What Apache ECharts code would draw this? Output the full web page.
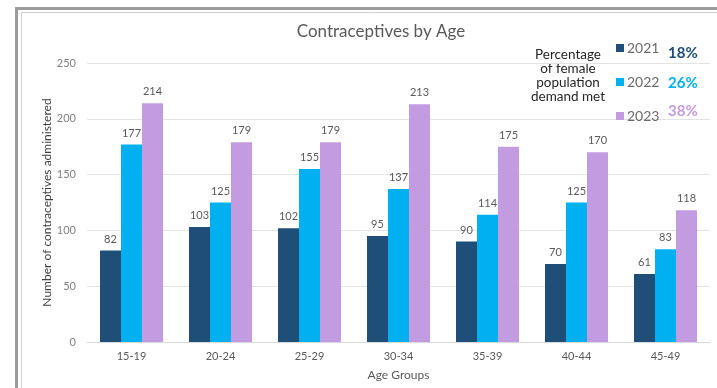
<!DOCTYPE html>
<html><head><meta charset="utf-8">
<script src="https://cdn.jsdelivr.net/npm/echarts@6/dist/echarts.min.js"></script>
<style>html,body{margin:0;padding:0;background:#fff}#c{width:717px;height:388px}</style>
</head><body><div id="c"></div>
<script>
const categories = ['15-19','20-24','25-29','30-34','35-39','40-44','45-49'];
const years = ['2021','2022','2023'];
const values2021 = [82,103,102,95,90,70,61];
const values2022 = [177,125,155,137,114,125,83];
const values2023 = [214,179,179,213,175,170,118];
const demandMet = ['18%','26%','38%'];
const yTicks = [0,50,100,150,200,250];
const colors = ['#1F4E79','#00B0F0','#C29BE0'];
const seriesValues = [values2021, values2022, values2023];

const chart = echarts.init(document.getElementById('c'));
const labelStyle = {show:true, position:'top', color:'#595959', fontSize:11, fontFamily:'Lato', distance:6};
chart.setOption({
  animation:false,
  backgroundColor:'#fff',
  title:{text:'Contraceptives by Age', left:376, top:18, textAlign:'center',
    textStyle:{fontFamily:'Lato', fontWeight:'normal', fontSize:17, color:'#595959'}},
  legend:{orient:'vertical', left:611, top:36, itemWidth:8, itemHeight:8, itemGap:20, icon:'rect',
    data:years, textStyle:{fontFamily:'Lato', fontSize:14, color:'#6a6a6a', padding:[0,0,0,-2]}},
  grid:{left:87, right:7, top:63, bottom:46, containLabel:false},
  xAxis:{type:'category', data:categories, name:'Age Groups', nameLocation:'middle', nameGap:27,
    nameTextStyle:{fontFamily:'Lato', fontSize:12, color:'#595959'},
    axisLine:{lineStyle:{color:'#d9d9d9'}}, axisTick:{show:false},
    axisLabel:{fontFamily:'Lato', fontSize:11, color:'#595959', margin:9}},
  yAxis:{type:'value', min:yTicks[0], max:yTicks[yTicks.length-1], interval:50,
    name:'Number of contraceptives administered', nameLocation:'middle', nameGap:34, nameRotate:90,
    nameMoveOverlap:false,
    nameTextStyle:{fontFamily:'Lato', fontSize:12, color:'#404040'},
    axisLine:{show:false}, axisTick:{show:false},
    axisLabel:{fontFamily:'Lato', fontSize:11, color:'#7f7f7f', margin:11},
    splitLine:{lineStyle:{color:'#e3e3e3'}}},
  series: years.map((y,i)=>({name:y, type:'bar', data:seriesValues[i], barWidth:21, barGap:'0%',
    itemStyle:{color:colors[i]}, label:labelStyle})),
  graphic:[
    {type:'rect', shape:{x:16.5, y:8.5, width:800, height:500}, style:{fill:'none', stroke:'#9c9c9c', lineWidth:3}, silent:true},
    {type:'rect', shape:{x:21.5, y:12.5, width:800, height:500}, style:{fill:'none', stroke:'#d0d0d0', lineWidth:1}, silent:true},
    {type:'text', x:568, y:48, style:{text:'Percentage\nof female\npopulation\ndemand met', fill:'#262626',
      font:'13.5px Lato', textAlign:'center', lineHeight:14}},
    {type:'text', x:668, y:46, style:{text:demandMet[0], fill:colors[0], font:'bold 15px Lato'}},
    {type:'text', x:668, y:76, style:{text:demandMet[1], fill:colors[1], font:'bold 15px Lato'}},
    {type:'text', x:668, y:104, style:{text:demandMet[2], fill:colors[2], font:'bold 15px Lato'}}
  ]
});
</script></body></html>
